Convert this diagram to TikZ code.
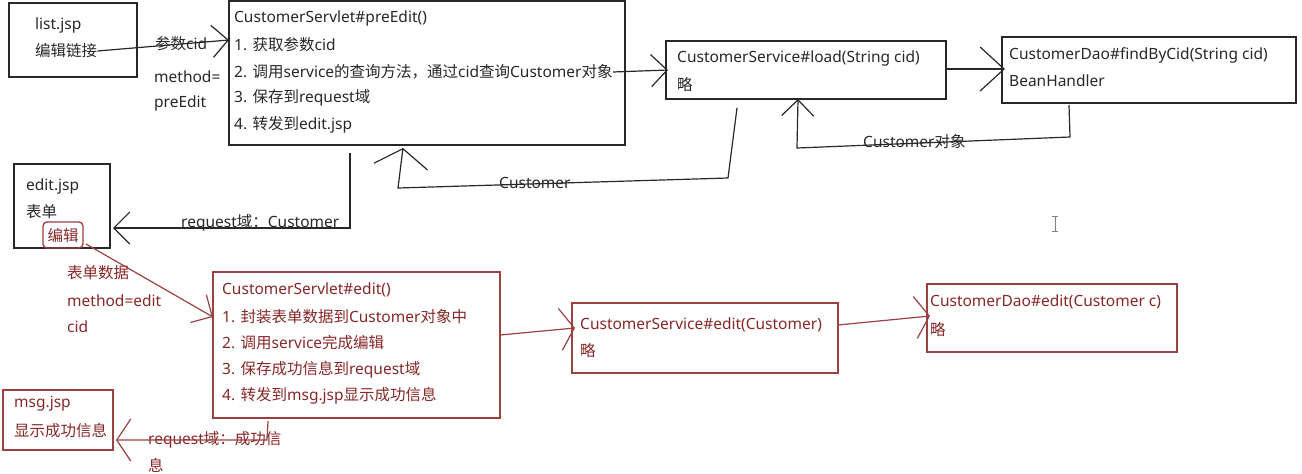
\documentclass[tikz,border=0pt]{standalone}
\usepackage{fontspec}
\setmainfont{Noto Sans}
\newfontfamily\cjk{Noto Sans CJK SC}
\newcommand\zh[1]{{\cjk #1}}
\usetikzlibrary{arrows.meta,calc}
\definecolor{ink}{RGB}{40,40,40}
\definecolor{rd}{RGB}{135,40,40}
\definecolor{rdline}{RGB}{155,65,65}
\begin{document}
\begin{tikzpicture}[x=1pt,y=-1pt,
  box/.style={draw=ink,line width=1.4pt,anchor=north west,inner sep=0pt,outer sep=0pt},
  rbox/.style={box,draw=rdline},
  txt/.style={anchor=west,inner sep=0pt,font=\fontsize{15.5}{18}\selectfont,text=ink},
  rtxt/.style={txt,text=rd},
  arr/.style={draw=ink,line width=1.2pt,-{Straight Barb[length=16pt,width=32pt,line width=1.2pt]}},
  rarr/.style={arr,draw=rdline},
  cursor/.style={draw=gray,line width=1pt}
]
\useasboundingbox (0,0) rectangle (1302,474);
\fill[white] (0,0) rectangle (1302,474);

% ---------- black boxes ----------
\node[box,minimum width=128pt,minimum height=74pt] (list) at (9,3) {};
\node[txt] (listT) at (35,25) {list.jsp};
\node[txt] (lnk) at (35,51) {\zh{编辑链接}};

\node[box,minimum width=396pt,minimum height=144pt] (pre) at (229,1) {};
\node[txt] (p0) at (234,18) {CustomerServlet\#preEdit()};
\node[txt] (p1) at (234,45) {1. \zh{获取参数}cid};
\node[txt] (p2) at (234,72) {2. \zh{调用}service\zh{的查询方法，通过}cid\zh{查询}Customer\zh{对象}};
\node[txt] (p3) at (234,98) {3. \zh{保存到}request\zh{域}};
\node[txt] (p4) at (234,125) {4. \zh{转发到}edit.jsp};

\node[txt] (la1) at (155,44) {\zh{参数}cid};
\node[txt] (la2) at (154,77) {method=};
\node[txt] (la3) at (154,103) {preEdit};

\node[box,minimum width=280pt,minimum height=58pt] (load) at (666,41) {};
\node[txt] (l0) at (677,58) {CustomerService\#load(String cid)};
\node[txt] (l1) at (677,85) {\zh{略}};

\node[box,minimum width=294pt,minimum height=66pt] (dao) at (1002,37) {};
\node[txt] (d0) at (1009,55) {CustomerDao\#findByCid(String cid)};
\node[txt] (d1) at (1009,81) {BeanHandler};

\node[txt] (cobj) at (863,142) {Customer\zh{对象}};
\node[txt] (cust) at (499,183) {Customer};

\node[box,minimum width=96pt,minimum height=84pt] (edit) at (14,164) {};
\node[txt] (e0) at (26,186) {edit.jsp};
\node[txt] (e1) at (26,212) {\zh{表单}};
\node[rbox,rounded corners=4pt,minimum width=40pt,minimum height=26pt] (bj) at (43,222) {};
\node[rtxt,anchor=center] (bjT) at (63,236) {\zh{编辑}};

\node[txt] (req) at (181,223) {request\zh{域：}Customer};

% ---------- black connectors ----------
\draw[arr] (lnk.east) -- ($(pre.north west)+(0,39)$);
\draw[arr] (p2.east) -- ($(load.north west)+(2,29)$);
\draw[arr,-{Straight Barb[length=24pt,width=44pt,line width=1.2pt]}]
  ($(load.north east)+(0,28)$) -- ($(dao.north west)+(3,32)$);
\draw[arr] ($(dao.south west)+(67,2)$) -- ++(1,32) -- ++(-273,11) -- ($(load.south west)+(132,0)$);
\draw[arr,-{Straight Barb[length=18pt,width=54pt,line width=1.2pt]}]
  ($(load.south west)+(71,9)$) -- ++(-9,70) -- ++(-330,10) -- ($(pre.south west)+(174,3)$);
\draw[arr] ($(pre.south west)+(121,8)$) -- ++(0,75) -- ($(edit.north east)+(3,64)$);

% ---------- red boxes ----------
\node[rtxt] (f0) at (67,273) {\zh{表单数据}};
\node[rtxt] (f1) at (67,301) {method=edit};
\node[rtxt] (f2) at (67,327) {cid};

\node[rbox,minimum width=287pt,minimum height=146pt] (editS) at (213,272) {};
\node[rtxt] (s0) at (222,290) {CustomerServlet\#edit()};
\node[rtxt] (s1) at (222,317) {1. \zh{封装表单数据到}Customer\zh{对象中}};
\node[rtxt] (s2) at (222,343) {2. \zh{调用}service\zh{完成编辑}};
\node[rtxt] (s3) at (222,370) {3. \zh{保存成功信息到}request\zh{域}};
\node[rtxt] (s4) at (222,396) {4. \zh{转发到}msg.jsp\zh{显示成功信息}};

\node[rbox,minimum width=266pt,minimum height=70pt] (csedit) at (572,303) {};
\node[rtxt] (c0) at (580,325) {CustomerService\#edit(Customer)};
\node[rtxt] (c1) at (580,351) {\zh{略}};

\node[rbox,minimum width=250pt,minimum height=68pt] (daoedit) at (927,284) {};
\node[rtxt] (de0) at (930,302) {CustomerDao\#edit(Customer c)};
\node[rtxt] (de1) at (930,330) {\zh{略}};

\node[rbox,minimum width=110pt,minimum height=60pt] (msg) at (3,390) {};
\node[rtxt] (m0) at (14,404) {msg.jsp};
\node[rtxt] (m1) at (14,431) {\zh{显示成功信息}};

\node[rtxt] (mr1) at (148,440) {request\zh{域：成功信}};
\node[rtxt] (mr2) at (148,465) {\zh{息}};

% ---------- red connectors ----------
\draw[rarr] ($(bj.south east)+(3,-4)$) -- ($(editS.north west)+(0,45)$);
\draw[rarr,-{Straight Barb[length=14pt,width=42pt,line width=1.2pt]}]
  ($(editS.north east)+(0,63)$) -- ($(csedit.north west)+(3,25)$);
\draw[rarr,-{Straight Barb[length=14pt,width=42pt,line width=1.2pt]}]
  ($(csedit.north east)+(0,22)$) -- ($(daoedit.north west)+(3,32)$);
\draw[rarr,-{Straight Barb[length=14pt,width=42pt,line width=1.2pt]}]
  ($(editS.south west)+(55,3)$) -- ++(-1,19) -- ($(msg.north east)+(3,50)$);

% ---------- text cursor ----------
\draw[cursor] (1055,216) -- (1055,231);
\draw[cursor] (1052,216) -- (1058,216);
\draw[cursor] (1052,231) -- (1058,231);
\end{tikzpicture}
\end{document}
